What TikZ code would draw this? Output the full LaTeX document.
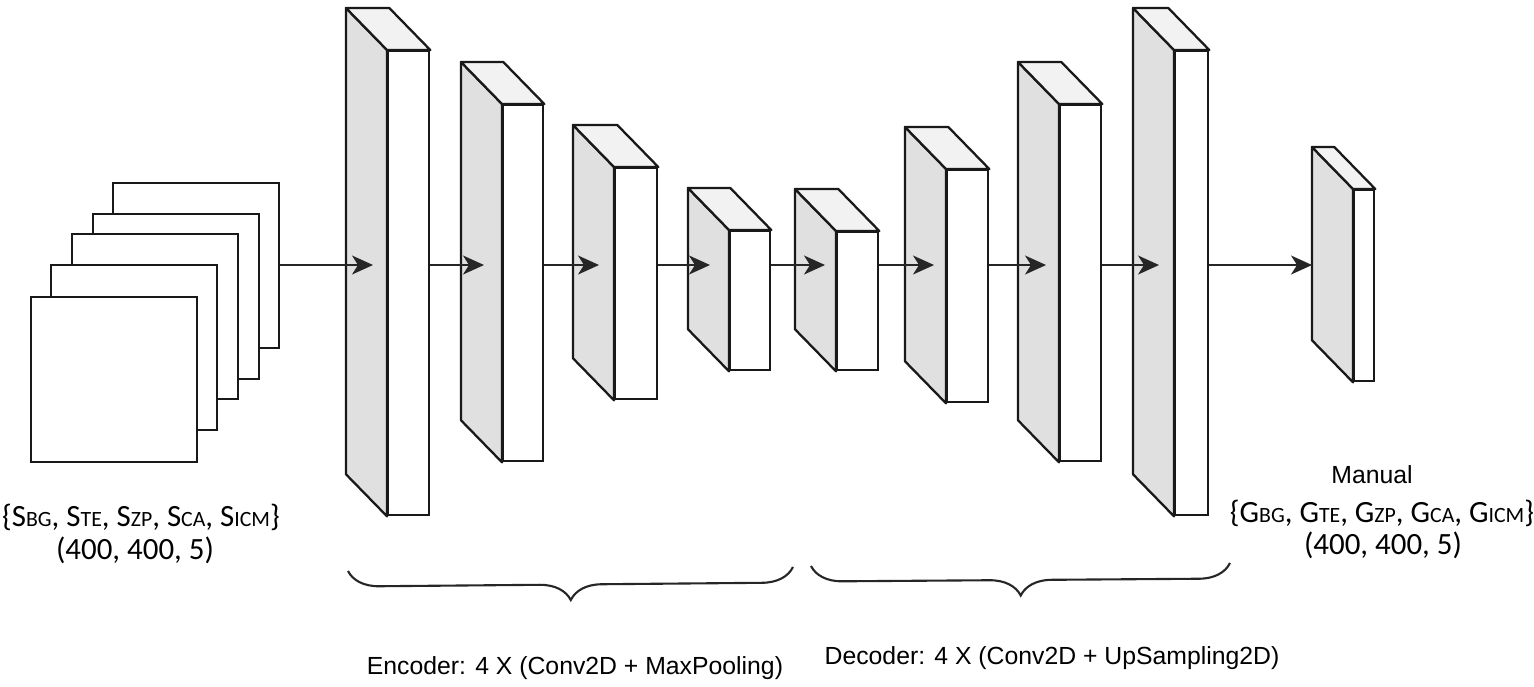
\documentclass[tikz,border=0pt]{standalone}
\usepackage{fontspec}
\setmainfont{Carlito}
\newfontfamily\arialfont{Liberation Sans}
\usetikzlibrary{arrows.meta,calc,positioning,decorations.pathreplacing}
\tikzset{
  signal/.style={-{Stealth[length=2.1mm, width=1.9mm, inset=0.6mm]}, line width=0.45pt, draw=black!85},
  front/.style={draw=black!90, line width=0.65pt, fill=white, rectangle, inner sep=0pt, anchor=north west},
  side/.style={draw=black!90, line width=0.65pt, fill=black!12, line join=round},
  topface/.style={draw=black!90, line width=0.65pt, fill=black!5, line join=round},
  sheet/.style={draw=black!90, line width=0.65pt, fill=white, rectangle, inner sep=0pt, anchor=north west,
    minimum width=16.6mm, minimum height=16.5mm},
  brace/.style={draw=black!85, line width=0.6pt, decorate, decoration={brace, mirror, amplitude=3.1mm}},
  shapelbl/.style={font=\fontsize{8.8}{10}\selectfont},
  layerlbl/.style={font=\arialfont\fontsize{7.05}{8.5}\selectfont}
}
\newcommand{\subcap}[1]{{\fontsize{6.2}{8}\selectfont #1}}
% one 3-D layer: front face is the node, side and top faces hang off it
\newcommand{\convblock}[5]{%
  \node[front, minimum width=#4mm, minimum height=#5mm] (#1) at (#2,#3) {};
  \draw[side] (#1.north west) -- ++(-4.1,-4.2) -- ($(#1.south west)+(-4.1,-4.2)$) -- (#1.south west) -- cycle;
  \draw[topface] (#1.north west) -- ++(-4.1,-4.2) -- ($(#1.north east)+(-4.1,-4.2)$) -- (#1.north east) -- cycle;
  \coordinate (#1-back) at ($(#1.north west)+(-4.1,0)$);
}

\begin{document}
\begin{tikzpicture}[x=1mm, y=-1mm]
  \useasboundingbox (0,0) rectangle (153.4,68.6);

  % input stack
  \node[sheet] (in1) at (11.2,18.2) {};
  \node[sheet] (in2) at (9.2,21.3) {};
  \node[sheet] (in3) at (7.1,23.3) {};
  \node[sheet] (in4) at (5.0,26.4) {};
  \node[sheet] (in5) at (3.0,29.6) {};

  % encoder
  \convblock{enc1}{38.7}{5.0}{4.1}{46.4}
  \convblock{enc2}{50.2}{10.4}{4.0}{35.6}
  \convblock{enc3}{61.4}{16.7}{4.2}{23.1}
  \convblock{enc4}{72.9}{23.0}{4.0}{13.9}
  % decoder
  \convblock{dec1}{83.6}{23.1}{4.1}{13.8}
  \convblock{dec2}{94.6}{16.9}{4.1}{23.2}
  \convblock{dec3}{105.9}{10.4}{4.1}{35.6}
  \convblock{dec4}{117.4}{5.0}{3.3}{46.4}
  % output
  \convblock{out}{135.3}{18.9}{2.0}{19.1}

  \coordinate (flow) at (0,26.5);
  \draw[signal] (in1.east |- flow) -- ($(enc1-back |- flow)+(2.7,0)$);
  \draw[signal] (enc1.east |- flow) -- ($(enc2-back |- flow)+(2.3,0)$);
  \draw[signal] (enc2.east |- flow) -- ($(enc3-back |- flow)+(2.6,0)$);
  \draw[signal] (enc3.east |- flow) -- ($(enc4-back |- flow)+(2.2,0)$);
  \draw[signal] (enc4.east |- flow) -- ($(dec1-back |- flow)+(3.0,0)$);
  \draw[signal] (dec1.east |- flow) -- ($(dec2-back |- flow)+(2.9,0)$);
  \draw[signal] (dec2.east |- flow) -- ($(dec3-back |- flow)+(2.8,0)$);
  \draw[signal] (dec3.east |- flow) -- ($(dec4-back |- flow)+(2.6,0)$);
  \draw[signal] (dec4.east |- flow) -- (out-back |- flow);

  \node[shapelbl] (inlbl) at (14.1,51.7) {\{S\subcap{BG}, S\subcap{TE}, S\subcap{ZP}, S\subcap{CA}, S\subcap{ICM}\}};
  \node[shapelbl] (inshape) at (13.5,55.0) {(400, 400, 5)};
  \node[layerlbl] (manual) at (137.2,47.5) {Manual};
  \node[shapelbl] (outlbl) at (138.2,51.3) {\{G\subcap{BG}, G\subcap{TE}, G\subcap{ZP}, G\subcap{CA}, G\subcap{ICM}\}};
  \node[shapelbl] (outshape) at (138.3,54.5) {(400, 400, 5)};

  \draw[brace] (34.8,57.1) -- (79.3,56.7);
  \draw[brace] (81.1,56.6) -- (123.0,56.3);
  \node[layerlbl] (enclbl) at (57.5,66.8) {Encoder: 4 X (Conv2D + MaxPooling)};
  \node[layerlbl] (declbl) at (105.2,65.8) {Decoder: 4 X (Conv2D + UpSampling2D)};
\end{tikzpicture}
\end{document}
